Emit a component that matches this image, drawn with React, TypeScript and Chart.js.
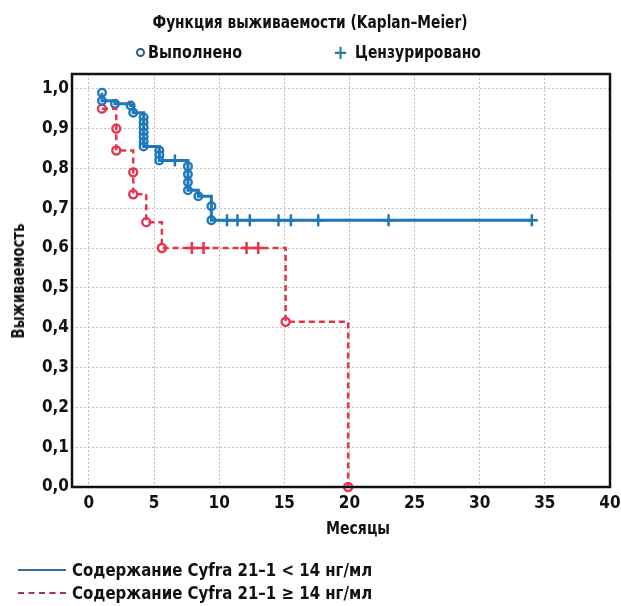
import React, { useEffect, useRef } from 'react';
import { Chart, registerables } from 'chart.js';

Chart.register(...registerables);

const FONT = "'Liberation Sans Narrow', 'DejaVu Sans Condensed', 'Roboto Condensed', Roboto, sans-serif";

const xTickValues = [0, 5, 10, 15, 20, 25, 30, 35, 40];
const yTickValues = [0, 0.1, 0.2, 0.3, 0.4, 0.5, 0.6, 0.7, 0.8, 0.9, 1.0];

// Cyfra 21-1 < 14 ng/ml — events (time in months, survival after event)
const lowEventTimes = [1.0, 1.0, 2.0, 3.2, 3.4, 4.2, 4.2, 4.2, 4.2, 4.2, 4.2, 4.2, 5.4, 5.4, 5.4, 7.6, 7.6, 7.6, 7.6, 8.4, 9.4, 9.4];
const lowEventSurv = [0.99, 0.97, 0.962, 0.958, 0.94, 0.928, 0.915, 0.903, 0.89, 0.878, 0.866, 0.855, 0.845, 0.833, 0.82, 0.805, 0.785, 0.765, 0.745, 0.73, 0.705, 0.67];
const lowCensorTimes = [6.6, 10.6, 11.4, 12.35, 14.55, 15.5, 17.6, 23.0, 34.0];
const lowCensorSurv = [0.82, 0.67, 0.67, 0.67, 0.67, 0.67, 0.67, 0.67, 0.67];

// Cyfra 21-1 >= 14 ng/ml
const highEventTimes = [1.0, 2.1, 2.1, 3.4, 3.4, 4.4, 5.6, 15.1, 19.9];
const highEventSurv = [0.95, 0.9, 0.845, 0.79, 0.735, 0.665, 0.6, 0.415, 0.0];
const highCensorTimes = [7.9, 8.8, 12.1, 13.0];
const highCensorSurv = [0.6, 0.6, 0.6, 0.6];

const BLUE = '#1c78ba';
const RED = '#e5344b';

function stepLine(et: number[], es: number[], ct: number[], cs: number[]) {
  const pts = et.map((t, i) => ({ x: t, y: es[i] })).concat(ct.map((t, i) => ({ x: t, y: cs[i] })));
  pts.sort((a, b) => a.x - b.x || b.y - a.y);
  return pts;
}

const frame = {
  id: 'frame',
  afterDraw(chart: any) {
    const { ctx, chartArea: a } = chart;
    ctx.save();
    ctx.strokeStyle = '#111';
    ctx.lineWidth = 2.5;
    ctx.strokeRect(a.left, a.top, a.right - a.left, a.bottom - a.top);
    ctx.restore();
  },
};

export default function App() {
  const ref = useRef<HTMLCanvasElement>(null);
  useEffect(() => {
    if (!ref.current) return;
    const chart = new Chart(ref.current, {
      type: 'line',
      data: {
        datasets: [
          {
            label: 'low-line',
            data: stepLine(lowEventTimes, lowEventSurv, lowCensorTimes, lowCensorSurv),
            borderColor: BLUE,
            borderWidth: 3,
            stepped: true,
            pointRadius: 0,
            fill: false,
          },
          {
            label: 'high-line',
            data: stepLine(highEventTimes, highEventSurv, highCensorTimes, highCensorSurv),
            borderColor: RED,
            borderWidth: 2.5,
            borderDash: [6, 4],
            stepped: true,
            pointRadius: 0,
            fill: false,
          },
          {
            label: 'low-events',
            data: lowEventTimes.map((t, i) => ({ x: t, y: lowEventSurv[i] })),
            showLine: false,
            pointStyle: 'circle',
            pointRadius: 3.8,
            pointBorderWidth: 2.4,
            pointBorderColor: BLUE,
            pointBackgroundColor: '#fff',
            clip: false,
          } as any,
          {
            label: 'high-events',
            data: highEventTimes.map((t, i) => ({ x: t, y: highEventSurv[i] })),
            showLine: false,
            pointStyle: 'circle',
            pointRadius: 4,
            pointBorderWidth: 2.4,
            pointBorderColor: RED,
            pointBackgroundColor: '#fff',
            clip: false,
          } as any,
          {
            label: 'low-censor',
            data: lowCensorTimes.map((t, i) => ({ x: t, y: lowCensorSurv[i] })),
            showLine: false,
            pointStyle: 'cross',
            pointRadius: 6,
            pointBorderWidth: 2.5,
            pointBorderColor: BLUE,
          },
          {
            label: 'high-censor',
            data: highCensorTimes.map((t, i) => ({ x: t, y: highCensorSurv[i] })),
            showLine: false,
            pointStyle: 'cross',
            pointRadius: 6,
            pointBorderWidth: 2.5,
            pointBorderColor: RED,
          },
        ],
      },
      options: {
        animation: false,
        responsive: false,
        layout: { padding: { top: 74, right: 11, left: 0, bottom: 64 } },
        plugins: { legend: { display: false }, tooltip: { enabled: false } },
        scales: {
          x: {
            type: 'linear',
            min: -1.3,
            max: 40,
            afterFit: (s: any) => { s.height = 55; s.paddingLeft = 0; s.paddingRight = 0; },
            afterBuildTicks: (s: any) => { s.ticks = xTickValues.map((v) => ({ value: v })); },
            grid: { color: '#bdbdbd', lineWidth: 1, drawTicks: false },
            border: { display: false, dash: [2, 2] },
            ticks: {
              padding: 6,
              color: '#111',
              font: { family: FONT, size: 17, weight: 'bold' },
              callback: (v: any) => String(v),
            },
          },
          y: {
            type: 'linear',
            min: 0,
            max: 1.037,
            afterFit: (s: any) => { s.width = 72; s.paddingTop = 0; s.paddingBottom = 0; },
            afterBuildTicks: (s: any) => { s.ticks = yTickValues.map((v) => ({ value: v })); },
            grid: { color: '#bdbdbd', lineWidth: 1, drawTicks: false },
            border: { display: false, dash: [2, 2] },
            ticks: {
              padding: 3,
              color: '#111',
              font: { family: FONT, size: 17, weight: 'bold' },
              callback: (v: any) => Number(v).toFixed(1).replace('.', ','),
            },
          },
        },
      },
      plugins: [frame],
    });
    return () => chart.destroy();
  }, []);

  const txt: React.CSSProperties = {
    position: 'absolute',
    fontFamily: FONT,
    fontWeight: 'bold',
    color: '#111',
    whiteSpace: 'nowrap',
    lineHeight: '20px',
  };
  const leftSqueeze = (k: number): React.CSSProperties => ({ transform: `scaleX(${k})`, transformOrigin: 'left center' });

  return (
    <div style={{ position: 'absolute', left: 0, top: 0, width: 621, height: 606, background: '#fff' }}>
      <canvas ref={ref} width={621} height={606} style={{ position: 'absolute', left: 0, top: 0 }} />
      <div style={{ ...txt, left: 310, top: 22, fontSize: 17, transform: 'translate(-50%,-50%) scaleX(0.9)' }}>
        Функция выживаемости (Kaplan–Meier)
      </div>
      <div style={{ position: 'absolute', left: 136, top: 48, width: 5, height: 5, border: '2.5px solid #2a5e80', borderRadius: '50%' }} />
      <div style={{ ...txt, left: 148, top: 42, fontSize: 18, ...leftSqueeze(0.89) }}>Выполнено</div>
      <div style={{ ...txt, left: 333, top: 42, fontSize: 20, color: '#2a7d92' }}>+</div>
      <div style={{ ...txt, left: 355, top: 42, fontSize: 18, ...leftSqueeze(0.86) }}>Цензурировано</div>
      <div style={{ ...txt, left: 358, top: 528, fontSize: 17, transform: 'translate(-50%,-50%) scaleX(0.92)' }}>Месяцы</div>
      <div style={{ ...txt, left: 18, top: 281, fontSize: 17, transform: 'translate(-50%,-50%) rotate(-90deg) scaleX(0.87)' }}>Выживаемость</div>
      <div style={{ position: 'absolute', left: 18, top: 569, width: 48, height: 0, borderTop: '2px solid #3a6f95' }} />
      <div style={{ ...txt, left: 72, top: 560, fontSize: 18, ...leftSqueeze(0.925) }}>Содержание Cyfra 21–1 &lt; 14 нг/мл</div>
      <div style={{ position: 'absolute', left: 18, top: 592, width: 48, height: 0, borderTop: '2px dashed #a8334f' }} />
      <div style={{ ...txt, left: 72, top: 583, fontSize: 18, ...leftSqueeze(0.925) }}>Содержание Cyfra 21–1 ≥ 14 нг/мл</div>
    </div>
  );
}
